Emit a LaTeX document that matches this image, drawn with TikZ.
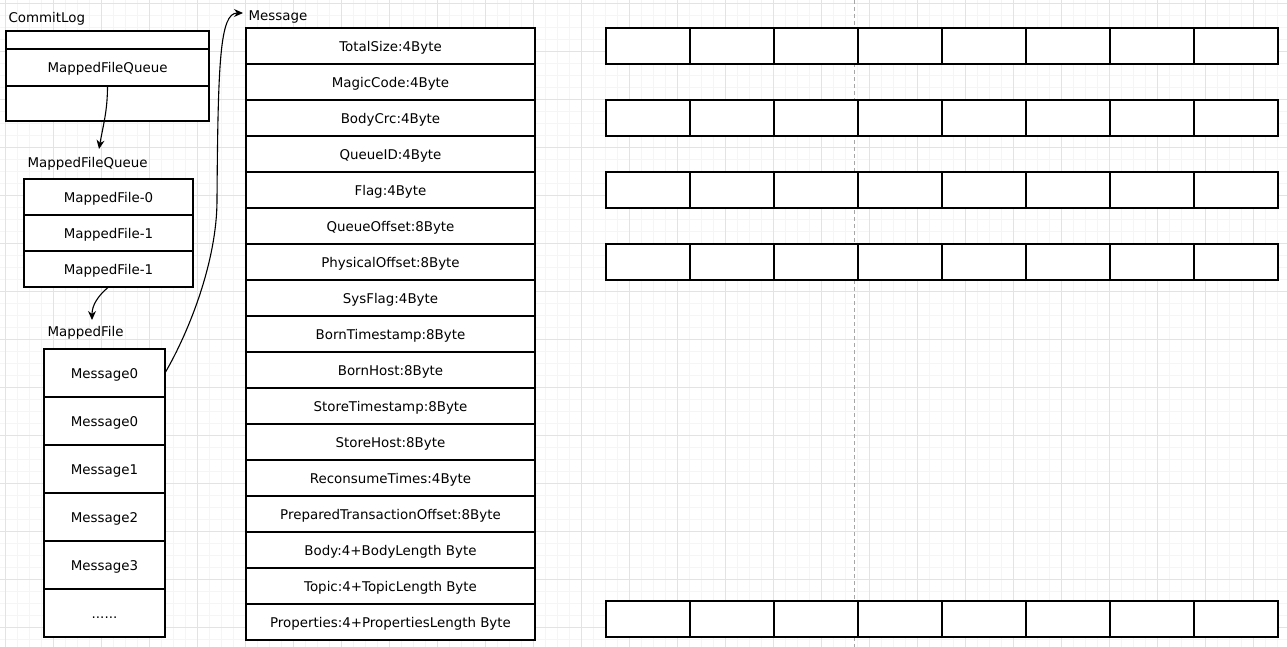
\documentclass[tikz,border=0pt]{standalone}
\usepackage{fontspec}
\setmainfont{DejaVu Sans}
\usetikzlibrary{arrows.meta,positioning}

\begin{document}
\begin{tikzpicture}[>={Stealth[length=9pt,width=8pt]},x=1pt,y=-1pt,line width=1.1pt,
font=\fontsize{13.4}{16}\selectfont]
\tikzstyle{field}=[draw,fill=white,inner sep=0pt,outer sep=0pt,anchor=north,text height=11pt,text depth=0pt]
\tikzstyle{title}=[inner sep=0pt,anchor=west,text height=11pt,text depth=0pt]
\tikzstyle{link}=[->,line width=1.1pt]

% paper and grid
\path[use as bounding box,fill=white] (0,0) rectangle (1287,647);
\begin{scope}[shift={(5,3)}]
\draw[gray!8,line width=0.6pt,step=12pt] (-12,-12) grid (1290,650);
\draw[gray!22,line width=0.8pt,step=48pt] (-48,-48) grid (1296,672);
\end{scope}
\draw[gray!70,line width=0.6pt,dash pattern=on 4pt off 3pt] (854,0) -- (854,647);

% CommitLog
\node[title] (clTitle) at (8,17) {CommitLog};
\node[field,minimum width=203pt,minimum height=18pt] (cl0) at (107.5,31) {};
\node[field,minimum width=203pt,minimum height=37pt] (cl1) [below=0pt of cl0] {MappedFileQueue};
\node[field,minimum width=203pt,minimum height=35pt] (cl2) [below=0pt of cl1] {};

% MappedFileQueue
\node[title] (mfqTitle) at (27,162) {MappedFileQueue};
\node[field,minimum width=169pt,minimum height=36pt] (mfq0) at (108.5,179) {MappedFile-0};
\node[field,minimum width=169pt,minimum height=36pt] (mfq1) [below=0pt of mfq0] {MappedFile-1};
\node[field,minimum width=169pt,minimum height=36pt] (mfq2) [below=0pt of mfq1] {MappedFile-1};

% MappedFile
\node[title] (mfTitle) at (47,331) {MappedFile};
\node[field,minimum width=121pt,minimum height=48pt] (mf0) at (104.5,349) {Message0};
\node[field,minimum width=121pt,minimum height=48pt] (mf1) [below=0pt of mf0] {Message0};
\node[field,minimum width=121pt,minimum height=48pt] (mf2) [below=0pt of mf1] {Message1};
\node[field,minimum width=121pt,minimum height=48pt] (mf3) [below=0pt of mf2] {Message2};
\node[field,minimum width=121pt,minimum height=48pt] (mf4) [below=0pt of mf3] {Message3};
\node[field,minimum width=121pt,minimum height=48pt] (mf5) [below=0pt of mf4] {......};

% Message
\begin{scope}[every node/.append style={minimum width=289pt,minimum height=36pt}]
\node[title,minimum width=0pt,minimum height=0pt] (msgTitle) at (248,15) {Message};
\node[field] (msg0) at (390.5,28) {TotalSize:4Byte};
\node[field] (msg1) [below=0pt of msg0] {MagicCode:4Byte};
\node[field] (msg2) [below=0pt of msg1] {BodyCrc:4Byte};
\node[field] (msg3) [below=0pt of msg2] {QueueID:4Byte};
\node[field] (msg4) [below=0pt of msg3] {Flag:4Byte};
\node[field] (msg5) [below=0pt of msg4] {QueueOffset:8Byte};
\node[field] (msg6) [below=0pt of msg5] {PhysicalOffset:8Byte};
\node[field] (msg7) [below=0pt of msg6] {SysFlag:4Byte};
\node[field] (msg8) [below=0pt of msg7] {BornTimestamp:8Byte};
\node[field] (msg9) [below=0pt of msg8] {BornHost:8Byte};
\node[field] (msg10) [below=0pt of msg9] {StoreTimestamp:8Byte};
\node[field] (msg11) [below=0pt of msg10] {StoreHost:8Byte};
\node[field] (msg12) [below=0pt of msg11] {ReconsumeTimes:4Byte};
\node[field] (msg13) [below=0pt of msg12] {PreparedTransactionOffset:8Byte};
\node[field] (msg14) [below=0pt of msg13] {Body:4+BodyLength Byte};
\node[field] (msg15) [below=0pt of msg14] {Topic:4+TopicLength Byte};
\node[field] (msg16) [below=0pt of msg15] {Properties:4+PropertiesLength Byte};
\end{scope}

% byte cells
\foreach \r/\y in {0/28,1/100,2/172,3/244,4/601}
  \foreach \c in {0,...,7}
    \node[field,minimum width=84pt,minimum height=36pt] (cell\r\c) at (648+84*\c,\y) {};

% links
\coordinate (mfqIn) at (99,149);
\coordinate (mfIn) at (92,320);
\coordinate (msgBend) at (217,200);
\coordinate (msgIn) at (243,13);
\path[link] (cl1.south) edge[out=-90,in=80] (mfqIn)
(mfq2.south) edge[out=-140,in=90] (mfIn);
\draw[link] (mf0.east) .. controls (190,330) and (217,260) .. (msgBend)
.. controls (218,60) and (220,13) .. (msgIn);
\end{tikzpicture}
\end{document}
